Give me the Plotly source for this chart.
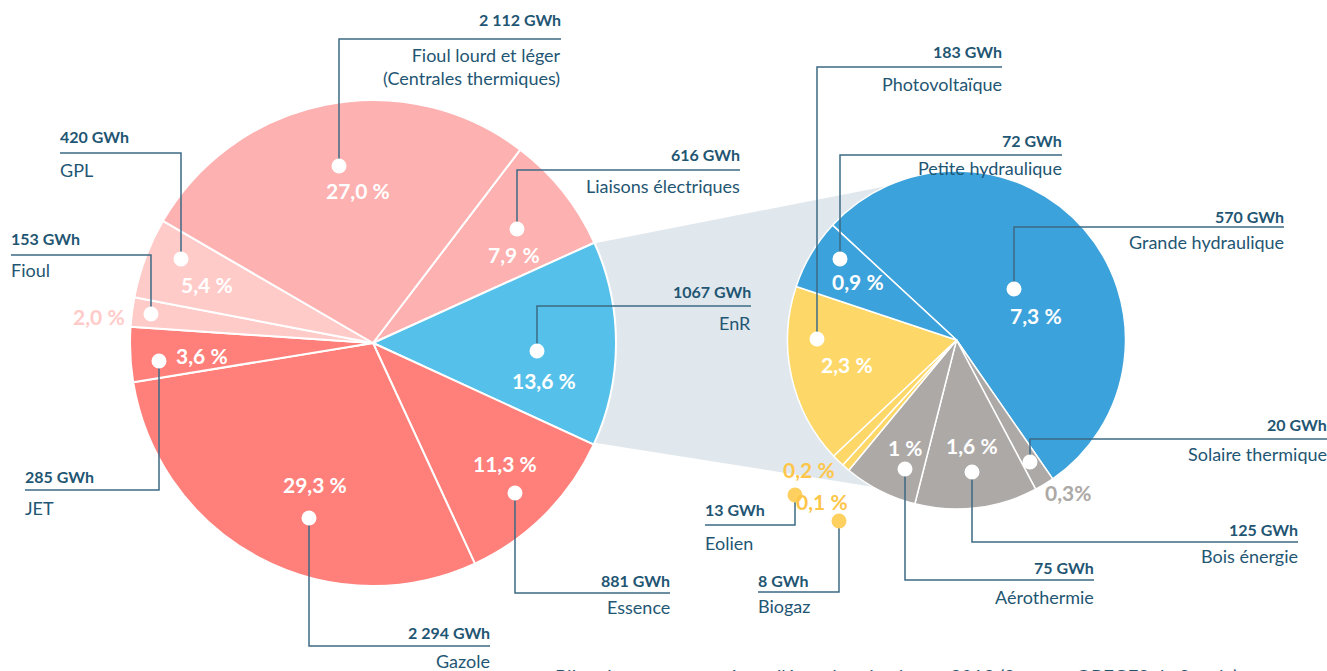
import plotly.graph_objects as go

W, H = 1327, 671

# ---- data ----
main_labels = ["Liaisons électriques", "EnR", "Essence", "Gazole", "JET", "Fioul", "GPL",
               "Fioul lourd et léger (Centrales thermiques)"]
main_values = [616, 1067, 881, 2294, 285, 153, 420, 2112]
main_pct = ["7,9 %", "13,6 %", "11,3 %", "29,3 %", "3,6 %", "2,0 %", "5,4 %", "27,0 %"]
main_colors = ["#FDB1B0", "#55C1EB", "#FF7F7A", "#FF7F7A", "#FF7F7A", "#FFCBC9", "#FFCBC9", "#FDB1B0"]

enr_labels = ["Grande hydraulique", "Solaire thermique", "Bois énergie", "Aérothermie",
              "Biogaz", "Eolien", "Photovoltaïque", "Petite hydraulique"]
enr_values = [570, 20, 125, 75, 8, 13, 183, 72]
enr_pct = ["7,3 %", "0,3%", "1,6 %", "1 %", "0,1 %", "0,2 %", "2,3 %", "0,9 %"]
enr_colors = ["#3CA2DB", "#ADA9A7", "#ADA9A7", "#ADA9A7", "#FDD868", "#FDD868", "#FDD868", "#3CA2DB"]

def X(px):
    return px / W

def Y(py):
    return 1 - py / H

TXT = "#1F5673"
LINE = "#3D6A84"
FONT = "Lato"

fig = go.Figure()

# left pie: center (373,343), r 243
fig.add_trace(go.Pie(
    labels=main_labels, values=main_values, sort=False, direction="clockwise", rotation=37.3,
    marker=dict(colors=main_colors, line=dict(color="white", width=2)),
    textinfo="none", hoverinfo="label+value", showlegend=False,
    domain=dict(x=[X(130), X(616)], y=[Y(586), Y(100)])))

# right pie: center (956.5,340), r 169
fig.add_trace(go.Pie(
    labels=enr_labels, values=enr_values, sort=False, direction="clockwise", rotation=-47.2,
    marker=dict(colors=enr_colors, line=dict(color="white", width=1.5)),
    textinfo="none", hoverinfo="label+value", showlegend=False,
    domain=dict(x=[X(787.5), X(1125.5)], y=[Y(509), Y(171)])))

shapes = []
annotations = []

# grey connecting wedge
pts = [(596, 243), (900, 183.5), (956, 340), (880, 488), (596, 443)]
path = "M " + " L ".join(f"{X(a):.5f},{Y(b):.5f}" for a, b in pts) + " Z"
shapes.append(dict(type="path", path=path, xref="paper", yref="paper",
                   fillcolor="#E1E8ED", line=dict(width=0), layer="below"))

# callouts: (dot x, dot y, corner y, end x, value text, label text, value y, label y, anchor, dot colour)
callouts = [
    (339, 166, 39, 561, "2 112 GWh", "Fioul lourd et léger<br>(Centrales thermiques)", 20, 67, "right", "white"),
    (517, 229, 170, 740, "616 GWh", "Liaisons électriques", 154, 186, "right", "white"),
    (537, 351, 306, 751, "1067 GWh", "EnR", 291, 323, "right", "white"),
    (515, 493, 593, 670, "881 GWh", "Essence", 580, 607, "right", "white"),
    (309, 518, 646, 490, "2 294 GWh", "Gazole", 632, 661, "right", "white"),
    (159, 361, 490, 25, "285 GWh", "JET", 476, 508, "left", "white"),
    (151, 314, 255, 11, "153 GWh", "Fioul", 238, 270, "left", "white"),
    (181, 259, 153, 60, "420 GWh", "GPL", 137, 170, "left", "white"),
    (817, 339, 67, 1002, "183 GWh", "Photovoltaïque", 52, 84, "right", "white"),
    (840, 259, 155, 1062, "72 GWh", "Petite hydraulique", 140, 168, "right", "white"),
    (1014, 289, 227, 1284, "570 GWh", "Grande hydraulique", 216, 242, "right", "white"),
    (1030, 462, 439, 1327, "20 GWh", "Solaire thermique", 424, 454, "right", "white"),
    (972, 472, 542, 1298, "125 GWh", "Bois énergie", 529, 556, "right", "white"),
    (905, 469, 580, 1094, "75 GWh", "Aérothermie", 567, 597, "right", "white"),
    (795, 495, 525, 705, "13 GWh", "Eolien", 510, 543, "left", "#FDD060"),
    (839, 521, 592, 758, "8 GWh", "Biogaz", 580, 606, "left", "#FDD060"),
]

for dx, dy, cy, ex, val, lab, vy, ly, anch, dcol in callouts:
    p = f"M {X(dx):.5f},{Y(dy):.5f} L {X(dx):.5f},{Y(cy):.5f} L {X(ex):.5f},{Y(cy):.5f}"
    shapes.append(dict(type="path", path=p, xref="paper", yref="paper",
                       line=dict(color=LINE, width=1.5), layer="above"))
    shapes.append(dict(type="circle", xref="paper", yref="paper",
                       xsizemode="pixel", ysizemode="pixel",
                       xanchor=X(dx), yanchor=Y(dy), x0=-7.5, x1=7.5, y0=-7.5, y1=7.5,
                       fillcolor=dcol, line=dict(width=0), layer="above"))
    tx = ex + 2 if anch == "right" else ex - 2
    annotations.append(dict(x=X(tx), y=Y(vy), xref="paper", yref="paper", text=f"<b>{val}</b>",
                            xanchor=anch, yanchor="middle", showarrow=False,
                            font=dict(family=FONT, size=16, color=TXT)))
    annotations.append(dict(x=X(tx), y=Y(ly), xref="paper", yref="paper", text=lab,
                            xanchor=anch, yanchor="middle", showarrow=False, align=anch,
                            font=dict(family=FONT, size=18, color=TXT)))

# percentage labels (x, y, colour), in the same order as the data lists
main_pct_pos = [(514, 255, "white"), (544, 380, "white"), (505, 463, "white"), (315, 484, "white"),
                (202, 355, "white"), (99, 317, "#FFCBC9"), (207, 284, "white"), (358, 191, "white")]
enr_pct_pos = [(1036, 315, "white"), (1068, 492, "#ADA9A7"), (972, 445, "white"), (905, 447, "white"),
               (822, 501, "#FDC64A"), (809, 469, "#FDC64A"), (847, 364, "white"), (858, 281, "white")]

for txt, (px, py, col) in list(zip(main_pct, main_pct_pos)) + list(zip(enr_pct, enr_pct_pos)):
    annotations.append(dict(x=X(px), y=Y(py), xref="paper", yref="paper", text=f"<b>{txt}</b>",
                            xanchor="center", yanchor="middle", showarrow=False,
                            font=dict(family=FONT, size=21, color=col)))

# caption, cut by the bottom edge as in the reference
annotations.append(dict(x=X(553), y=Y(663), xref="paper", yref="paper",
                        text="Bilan des consommations d'énergie primaire en 2012 (Source : OREGES de Savoie)",
                        xanchor="left", yanchor="top", showarrow=False,
                        font=dict(family=FONT, size=19, color=TXT)))

fig.update_layout(
    width=W, height=H, margin=dict(l=0, r=0, t=0, b=0),
    paper_bgcolor="white", plot_bgcolor="white",
    shapes=shapes, annotations=annotations,
)

fig.write_html("out.html", config={"displayModeBar": False},
               post_script="document.body.style.margin='0';document.body.style.overflow='hidden';")
